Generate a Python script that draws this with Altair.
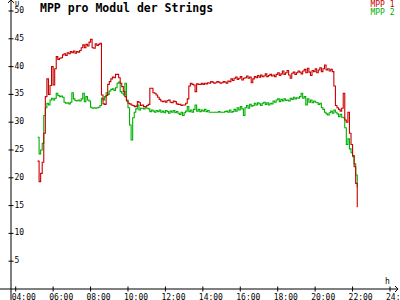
import altair as alt
import pandas as pd

# ---- data (5-minute samples) ----
# hour -> values for minutes 0,5,...,55 (hour 5 starts at :10, hour 22 ends at :15)
mpp1 = {
    5: [23.0, 19.3, 20.8, 22.8, 28.0, 34.6, 37.8, 35.0, 36.6, 40.0],
    6: [36.7, 39.6, 41.8, 41.3, 41.5, 41.6, 42.1, 42.3, 42.0, 42.5, 42.3, 42.7],
    7: [42.5, 42.8, 42.4, 42.7, 42.6, 42.9, 43.4, 43.9, 43.4, 44.0, 43.7, 44.4],
    8: [44.9, 43.4, 43.3, 44.1, 43.8, 44.0, 44.2, 34.9, 33.3, 33.2, 34.8, 36.8],
    9: [37.3, 37.8, 38.1, 38.0, 38.6, 38.6, 38.0, 37.0, 36.4, 35.5, 34.6, 33.8],
    10: [33.4, 33.3, 33.1, 33.0, 32.8, 32.9, 33.7, 33.5, 33.0, 33.1, 32.8, 32.8],
    11: [33.0, 33.2, 36.1, 36.1, 35.3, 35.2, 34.9, 34.5, 34.1, 33.8, 33.7, 33.8],
    12: [33.6, 33.9, 34.0, 33.6, 33.5, 33.8, 33.7, 33.3, 33.2, 33.2, 33.0, 33.1],
    13: [33.1, 33.4, 34.2, 36.5, 37.0, 36.8, 36.7, 35.5, 36.9, 36.8, 36.8, 37.0],
    14: [36.8, 37.0, 36.9, 37.1, 37.0, 37.3, 37.2, 37.0, 37.1, 37.3, 37.2, 37.0],
    15: [37.1, 37.3, 37.2, 37.0, 37.4, 37.3, 37.8, 37.5, 37.9, 38.1, 37.7, 37.9],
    16: [38.2, 37.6, 37.9, 38.0, 38.3, 37.9, 38.1, 37.1, 37.8, 38.2, 38.0, 38.4],
    17: [38.1, 38.5, 38.2, 38.3, 38.7, 38.2, 38.4, 38.6, 38.3, 38.5, 38.2, 38.6],
    18: [38.9, 38.4, 38.7, 39.2, 38.6, 38.9, 39.3, 38.5, 37.9, 38.8, 39.0, 38.6],
    19: [38.9, 39.2, 39.0, 38.7, 39.2, 39.5, 38.9, 39.7, 39.0, 38.4, 39.3, 39.1],
    20: [39.6, 38.9, 39.4, 39.8, 39.1, 39.6, 40.3, 39.4, 39.6, 39.2, 39.5, 39.1],
    21: [36.5, 33.0, 32.6, 32.3, 32.0, 32.5, 35.2, 30.4, 30.0, 31.8, 28.0, 26.0],
    22: [24.0, 22.0, 19.0, 14.7],
}
mpp2 = {
    5: [27.3, 24.3, 25.0, 26.2, 31.2, 32.6, 33.4, 33.1, 34.0, 34.3],
    6: [34.0, 34.3, 35.2, 34.8, 34.6, 34.7, 34.5, 33.6, 33.4, 33.5, 33.3, 33.6],
    7: [35.3, 34.2, 33.9, 33.8, 34.0, 33.8, 34.2, 35.2, 33.7, 34.6, 34.0, 33.8],
    8: [32.7, 32.5, 32.6, 32.5, 32.6, 32.7, 33.0, 34.3, 34.0, 34.6, 35.3, 35.0],
    9: [35.6, 35.9, 36.0, 35.7, 36.2, 37.0, 37.2, 35.5, 35.2, 34.9, 37.0, 34.0],
    10: [32.6, 29.5, 26.8, 30.8, 31.8, 32.4, 33.1, 32.2, 32.5, 32.5, 32.4, 32.6],
    11: [32.5, 32.4, 31.9, 32.2, 32.0, 31.8, 32.1, 31.9, 32.2, 31.8, 32.0, 31.7],
    12: [32.1, 31.9, 31.6, 32.0, 31.8, 32.1, 31.7, 31.9, 31.6, 31.4, 31.8, 31.2],
    13: [31.7, 32.0, 32.8, 31.9, 32.2, 31.8, 32.3, 33.1, 32.0, 32.3, 31.9, 32.2],
    14: [32.0, 32.3, 31.9, 32.1, 31.8, 31.8, 31.8, 31.8, 31.8, 31.8, 31.9, 31.8],
    15: [31.8, 31.8, 31.9, 32.0, 31.8, 32.2, 31.8, 31.9, 32.3, 32.0, 32.6, 32.2],
    16: [32.8, 32.4, 31.2, 32.6, 33.0, 32.5, 33.2, 32.9, 33.0, 33.4, 33.1, 33.5],
    17: [33.3, 33.0, 33.4, 33.6, 33.2, 33.5, 33.1, 33.4, 33.3, 33.8, 33.6, 34.0],
    18: [34.2, 33.7, 34.1, 33.8, 34.2, 33.9, 34.0, 33.8, 34.3, 34.1, 34.5, 34.2],
    19: [34.4, 34.3, 34.6, 35.2, 34.3, 34.6, 33.1, 34.2, 33.6, 34.0, 33.5, 33.8],
    20: [33.6, 33.5, 33.2, 33.4, 32.6, 32.3, 31.8, 31.5, 31.3, 31.7, 32.0, 31.6],
    21: [32.2, 31.8, 31.5, 31.0, 31.4, 30.9, 30.8, 29.0, 26.0, 27.0, 25.2, 24.5],
    22: [23.8, 22.5, 20.5, 18.3],
}
first_minute = {5: 10}
x_ticks = [4, 6, 8, 10, 12, 14, 16, 18, 20, 22, 24]
y_ticks = [5, 10, 15, 20, 25, 30, 35, 40, 45, 50]
title_text = "MPP pro Modul der Strings"
series_names = ["MPP 1", "MPP 2"]
RED = "#c80000"
GREEN = "#00b000"
FONT = "DejaVu Sans Mono"

rows = []
for h in sorted(mpp1):
    m0 = first_minute.get(h, 0)
    for i, (a, b) in enumerate(zip(mpp1[h], mpp2[h])):
        t = h + (m0 + 5 * i) / 60.0
        rows.append({"t": t, "mpp1": a, "mpp2": b})
df = pd.DataFrame(rows)

X0 = 3.749          # x position of the vertical axis (hours)
X_LEFT, X_ARROW = 3.16, 24.43
Y_BOTTOM, Y_ARROW = -2.0, 52.0
xs = alt.Scale(domain=[X0, 24.0], nice=False, zero=False)
ys = alt.Scale(domain=[0, 50], nice=False, zero=False)

def X(f):
    return alt.X(f, type="quantitative", scale=xs, axis=None)

def Y(f):
    return alt.Y(f, type="quantitative", scale=ys, axis=None)

green_line = alt.Chart(df).mark_line(color=GREEN, strokeWidth=1.1, interpolate="step-after").encode(
    x=X("t"), y=Y("mpp2"))
red_line = alt.Chart(df).mark_line(color=RED, strokeWidth=1.1, interpolate="step-after").encode(
    x=X("t"), y=Y("mpp1"))

ax_df = pd.DataFrame({"xl": [X_LEFT], "xr": [X_ARROW], "yb": [Y_BOTTOM], "yt": [Y_ARROW],
                      "x0": [X0], "zero": [0.0]})
x_axis = alt.Chart(ax_df).mark_rule(color="black", strokeWidth=1).encode(
    x=X("xl"), x2="xr", y=Y("zero"))
y_axis = alt.Chart(ax_df).mark_rule(color="black", strokeWidth=1).encode(
    x=X("x0"), y=Y("yb"), y2="yt")
x_arrow = alt.Chart(ax_df).mark_point(shape="M -1 -1 L 0 0 L -1 1", size=36, filled=False,
                                      color="black", opacity=1, strokeWidth=1).encode(
    x=X("xr"), y=Y("zero"))
y_arrow = alt.Chart(ax_df).mark_point(shape="M -1 1 L 0 0 L 1 1", size=36, filled=False,
                                      color="black", opacity=1, strokeWidth=1).encode(
    x=X("x0"), y=Y("yt"))

yt_df = pd.DataFrame({"v": y_ticks, "x0": X0, "lab": [str(v) for v in y_ticks]})
xt_df = pd.DataFrame({"v": x_ticks, "zero": 0.0, "lab": [f"{v:02d}:00" for v in x_ticks]})

y_tick_marks = alt.Chart(yt_df).mark_point(shape="M -1 0 L 1 0", size=25, filled=False,
                                           color="black", opacity=1, strokeWidth=1).encode(
    x=X("x0"), y=Y("v"))
x_tick_marks = alt.Chart(xt_df).mark_point(shape="M 0 -1 L 0 1", size=25, filled=False,
                                           color="black", opacity=1, strokeWidth=1).encode(
    x=X("v"), y=Y("zero"))
y_labels = alt.Chart(yt_df).mark_text(align="left", baseline="middle", dx=3.5, font=FONT,
                                      fontSize=8, color="black").encode(
    x=X("x0"), y=Y("v"), text="lab:N")
x_labels = alt.Chart(xt_df).mark_text(align="left", baseline="alphabetic", dx=-4, dy=11,
                                      font=FONT, fontSize=8, color="black").encode(
    x=X("v"), y=Y("zero"), text="lab:N")

title = alt.Chart(ax_df).mark_text(text=title_text, align="left", baseline="alphabetic",
                                   font=FONT, fontSize=11.5, fontWeight="bold",
                                   color="black").encode(x=alt.value(29), y=alt.value(0.5))
leg1 = alt.Chart(ax_df).mark_text(text=series_names[0], align="right", baseline="alphabetic",
                                  font=FONT, fontSize=8, color=RED).encode(
    x=alt.value(383.5), y=alt.value(-4))
leg2 = alt.Chart(ax_df).mark_text(text=series_names[1], align="right", baseline="alphabetic",
                                  font=FONT, fontSize=8, color=GREEN).encode(
    x=alt.value(383.5), y=alt.value(3.5))
u_lab = alt.Chart(ax_df).mark_text(text="U", align="left", baseline="alphabetic",
                                   font=FONT, fontSize=7, color="black").encode(
    x=alt.value(4), y=alt.value(-5.5))
h_lab = alt.Chart(ax_df).mark_text(text="h", align="left", baseline="alphabetic",
                                   font=FONT, fontSize=8, color="black").encode(
    x=alt.value(374), y=alt.value(273))

chart = alt.layer(
    green_line, red_line, x_axis, y_axis, x_arrow, y_arrow,
    y_tick_marks, x_tick_marks, y_labels, x_labels,
    title, leg1, leg2, u_lab, h_lab,
).properties(
    width=379, height=278,
    padding={"left": 11, "top": 11, "right": 10, "bottom": 11},
    autosize="none",
    background="white",
).configure_view(stroke=None)

chart.save("out.html", embed_options={"renderer": "svg", "actions": False})
